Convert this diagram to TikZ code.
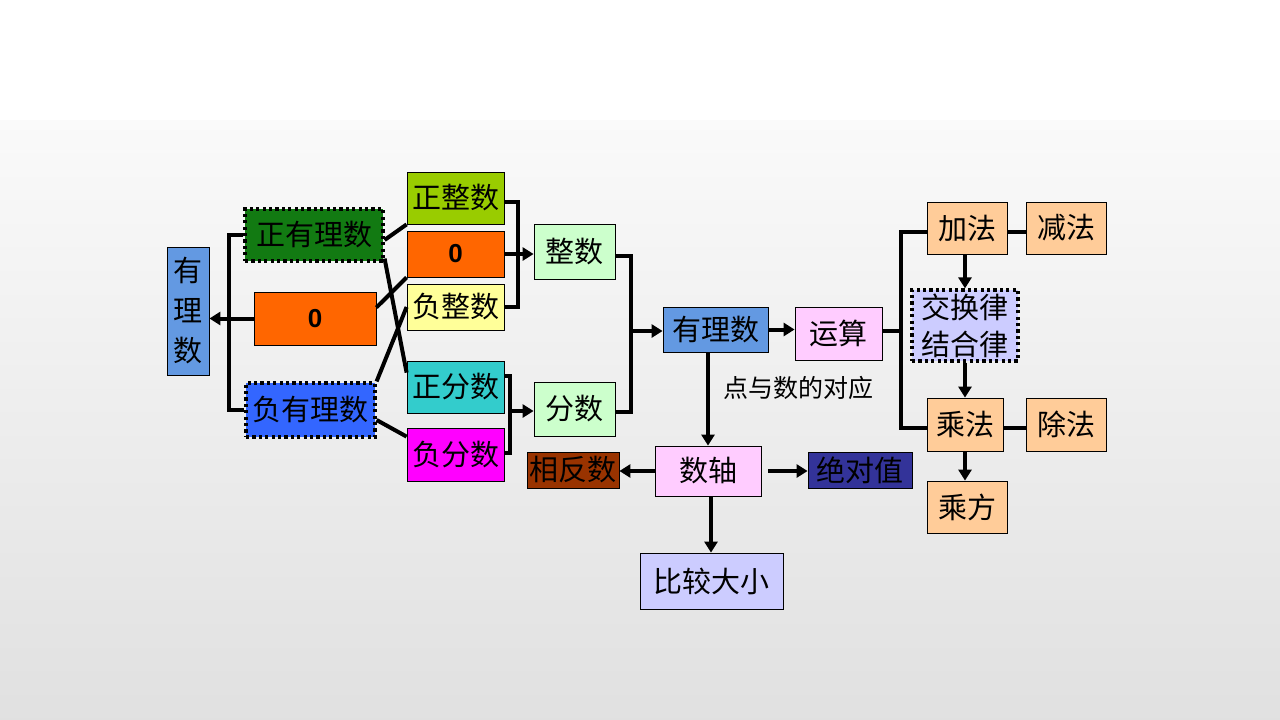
\documentclass[tikz,border=0pt]{standalone}
\usepackage{fontspec}
\setmainfont{Liberation Sans}
\newfontfamily\cjk{Noto Sans CJK SC}
\usetikzlibrary{arrows.meta,calc}
\definecolor{cblue}{HTML}{6399E2}
\definecolor{cgreen}{HTML}{127A12}
\definecolor{corange}{HTML}{FF6600}
\definecolor{cnegblue}{HTML}{3366FF}
\definecolor{clime}{HTML}{99CC00}
\definecolor{cyellow}{HTML}{FFFF99}
\definecolor{cteal}{HTML}{33CCCC}
\definecolor{cmag}{HTML}{FF00FF}
\definecolor{cmint}{HTML}{CCFFCC}
\definecolor{cpink}{HTML}{FFCCFF}
\definecolor{cbrown}{HTML}{993300}
\definecolor{cnavy}{HTML}{333399}
\definecolor{clav}{HTML}{CCCCFF}
\definecolor{cpeach}{HTML}{FFCC99}
\tikzset{
  box/.style={draw=black,line width=0.8pt,rectangle,inner sep=0pt,anchor=center,
    font=\cjk\fontsize{29}{32}\selectfont,text=black},
  dotbox/.style={box,line width=3.2pt,dash pattern=on 3.2pt off 3.2pt},
  zerobox/.style={box,font=\bfseries\fontsize{26}{30}\selectfont},
  conn/.style={line width=4pt,draw=black},
  arr/.style={conn,-{Triangle[length=11pt,width=13pt]}},
}
\begin{document}
\begin{tikzpicture}[x=1pt,y=-1pt]
\useasboundingbox (0,0) rectangle (1280,720);
\fill[white] (0,0) rectangle (1280,120);
\shade[top color=black!2,bottom color=black!12] (0,120) rectangle (1280,720);

% left part
\node[box,fill=cblue,minimum width=42pt,minimum height=128pt,align=center,
  font=\cjk\fontsize{29}{40}\selectfont] (lrat) at (188,311) {有\\理\\数};
\node[dotbox,fill=cgreen,minimum width=138pt,minimum height=52pt] (pos) at (314,235) {正有理数};
\node[zerobox,fill=corange,minimum width=122pt,minimum height=53pt] (zeroA) at (315,318.5) {0};
\node[dotbox,fill=cnegblue,minimum width=129pt,minimum height=54pt] (neg) at (310.5,410) {负有理数};

\node[box,fill=clime,minimum width=97pt,minimum height=52pt] (pint) at (455.5,198) {正整数};
\node[zerobox,fill=corange,minimum width=97pt,minimum height=46pt] (zeroB) at (455.5,254) {0};
\node[box,fill=cyellow,minimum width=97pt,minimum height=46pt] (nint) at (455.5,307) {负整数};
\node[box,fill=cteal,minimum width=97pt,minimum height=52pt] (pfrac) at (455.5,387) {正分数};
\node[box,fill=cmag,minimum width=97pt,minimum height=53pt] (nfrac) at (455.5,454.5) {负分数};

\node[box,fill=cmint,minimum width=81pt,minimum height=55pt] (int) at (574.5,251.5) {整数};
\node[box,fill=cmint,minimum width=81pt,minimum height=54pt] (frac) at (574.5,409) {分数};

% middle
\node[box,fill=cblue,minimum width=105pt,minimum height=45pt] (rat) at (715.5,329.5) {有理数};
\node[box,fill=cpink,minimum width=87pt,minimum height=53pt] (op) at (838.5,333.5) {运算};
\node[font=\cjk\fontsize{25}{28}\selectfont,anchor=center] (corr) at (798,388) {点与数的对应};
\node[box,fill=cpink,minimum width=106pt,minimum height=50pt] (axis) at (708,471) {数轴};
\node[box,fill=cbrown,minimum width=92pt,minimum height=36pt] (opp) at (573,470) {相反数};
\node[box,fill=cnavy,minimum width=104pt,minimum height=36pt] (abs) at (860,470) {绝对值};
\node[box,fill=clav,minimum width=143pt,minimum height=56pt] (cmp) at (711.5,581) {比较大小};

% right
\node[box,fill=cpeach,minimum width=80pt,minimum height=52pt] (add) at (967,228) {加法};
\node[box,fill=cpeach,minimum width=80pt,minimum height=52pt] (sub) at (1066,228) {减法};
\node[dotbox,fill=clav,minimum width=106pt,minimum height=71pt,align=center,
  font=\cjk\fontsize{29}{37}\selectfont] (law) at (965,325.5) {交换律\\结合律};
\node[box,fill=cpeach,minimum width=76pt,minimum height=53pt] (mul) at (965,424.5) {乘法};
\node[box,fill=cpeach,minimum width=80pt,minimum height=53pt] (div) at (1066,424.5) {除法};
\node[box,fill=cpeach,minimum width=80pt,minimum height=52pt] (pow) at (967,507) {乘方};

\coordinate (fb) at (510,411);
\coordinate (rb) at (631,331);

% connectors left
\draw[conn] (pos.west) -- ++(-14,0) |- (neg.west);
\draw[arr] (zeroA.west) -- (zeroA.west -| lrat.east);
\draw[conn] ([yshift=-5pt]pos.east) -- (pint.south west);
\draw[conn] ([yshift=4pt]pos.south east) -- ([yshift=-12pt]pfrac.north west);
\draw[conn] ([yshift=11pt]zeroA.east) -- (zeroB.south west);
\draw[conn] (neg.north east) -- (nint.west);
\draw[conn] ([yshift=-10pt]neg.east) -- ([yshift=-9pt]nfrac.north west);

\draw[conn] ([yshift=-4pt]pint.east) -- ++(14,0) |- (nint.east);
\draw[arr] (zeroB.east) -- (int.west |- zeroB.east);
\draw[conn] ([yshift=11pt]pfrac.east) -- ++(6,0) |- ([yshift=2pt]nfrac.east);
\draw[arr] (fb) -- (frac.west |- fb);
\draw[conn] ([yshift=-4pt]int.east) -- ++(16,0) |- ([yshift=-3pt]frac.east);
\draw[arr] (rb) -- (rat.west |- rb);

% middle connectors
\draw[arr] (rat.east) -- (op.west |- rat.east);
\draw[arr] (axis.north |- rat.south) -- (axis.north);
\draw[arr] (axis.west) -- (opp.east |- axis.west);
\draw[arr] ([xshift=7pt]axis.east) -- (abs.west |- axis.east);
\draw[arr] ([xshift=3pt]axis.south) -- ([xshift=3pt]axis.south |- cmp.north);

% right connectors
\draw[conn] ([yshift=3pt]op.east) -- ([xshift=-26pt,yshift=3pt]op.east -| add.west);
\draw[conn] ([yshift=-4pt]add.west) -- ++(-26,0) |- ([yshift=-3pt]mul.west);
\draw[conn] ([yshift=-4pt]add.east) -- ([yshift=-4pt]sub.west);
\draw[arr] (law.north |- add.south) -- (law.north);
\draw[arr] (law.south) -- (mul.north);
\draw[conn] ([yshift=-3pt]mul.east) -- ([yshift=-3pt]div.west);
\draw[arr] (mul.south) -- (mul.south |- pow.north);
\end{tikzpicture}
\end{document}
